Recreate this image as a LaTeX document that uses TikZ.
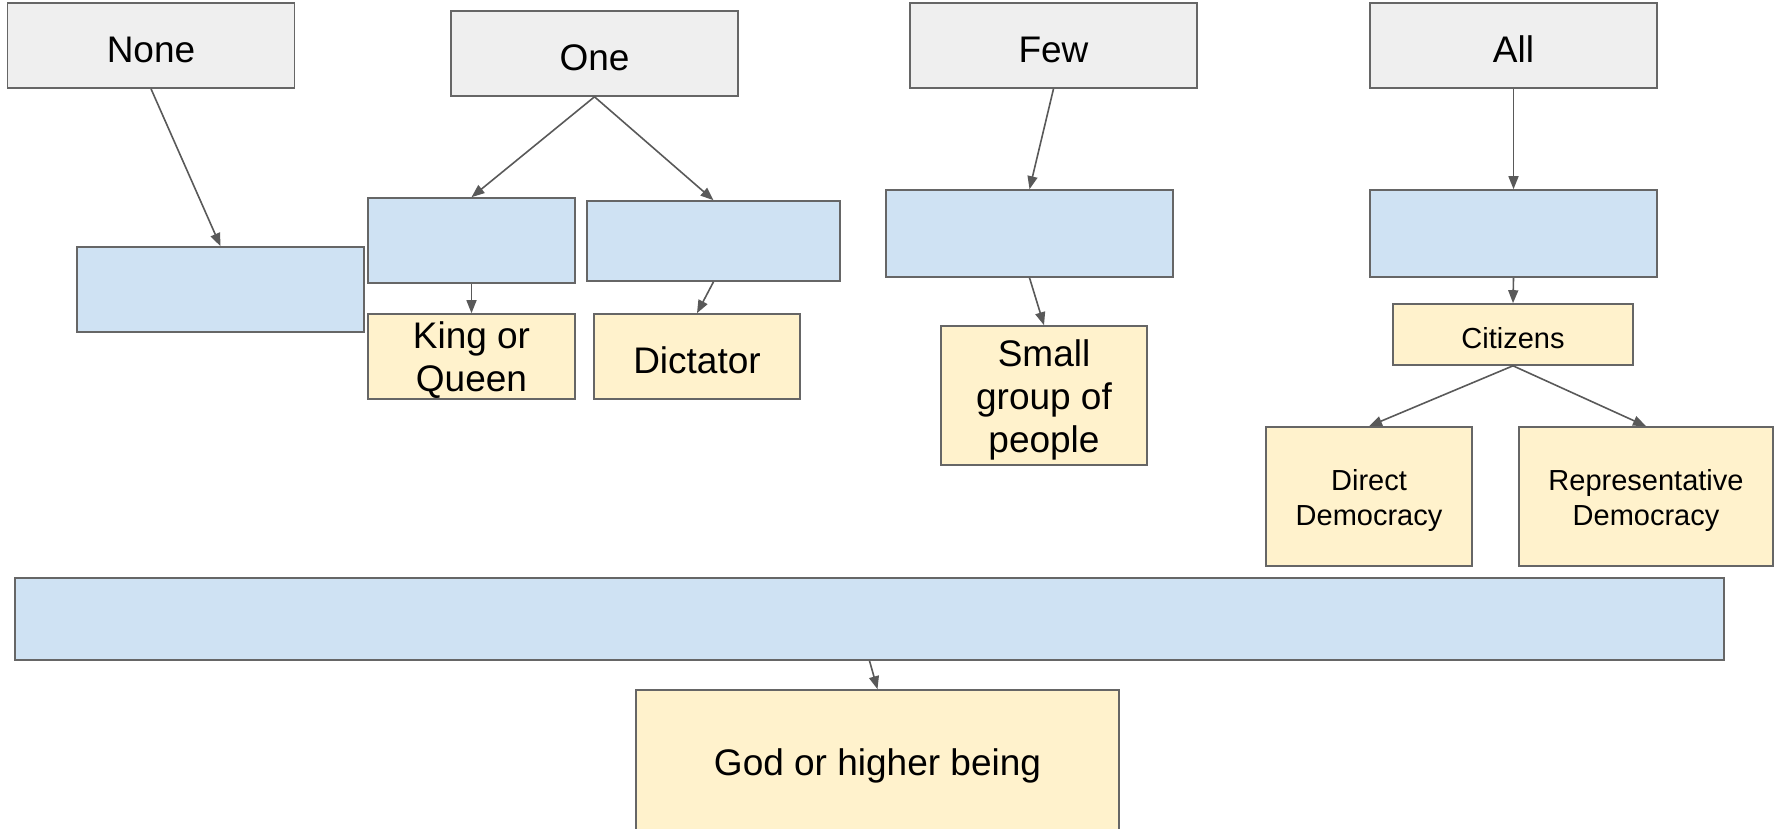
\documentclass[tikz,border=0pt]{standalone}
\usepackage{fontspec}
\setmainfont{Liberation Sans}
\usetikzlibrary{arrows.meta}
\definecolor{greyfill}{HTML}{EFEFEF}
\definecolor{bluefill}{HTML}{CFE2F3}
\definecolor{yellowfill}{HTML}{FFF2CC}
\definecolor{edge}{HTML}{666666}
\definecolor{arrowc}{HTML}{595959}
\begin{document}
\begin{tikzpicture}[x=1pt,y=-1pt,
  box/.style={draw=edge,line width=1.6pt,inner sep=0pt,align=center,rectangle},
  bigtxt/.style={label={[font=\fontsize{37}{43}\selectfont,align=center,yshift=-4pt,inner sep=0pt]center:{#1}}},
  smalltxt/.style={label={[font=\fontsize{29}{35}\selectfont,align=center,yshift=-4pt,inner sep=0pt]center:{#1}}},
  topbox/.style={box,fill=greyfill,minimum width=287pt,minimum height=85pt},
  bluebox/.style={box,fill=bluefill},
  ybox/.style={box,fill=yellowfill},
  arr/.style={draw=arrowc,line width=1.6pt,-{Triangle[length=13pt,width=10pt]}}]
\clip (0,0) rectangle (1777,829);
\useasboundingbox (0,0) rectangle (1777,829);
% top row
\node[topbox,bigtxt={None}] (none) at (151,45.5) {};
\node[topbox,bigtxt={One}] (one) at (594.5,53.5) {};
\node[topbox,bigtxt={Few}] (few) at (1053.5,45.5) {};
\node[topbox,bigtxt={All}] (all) at (1513.5,45.5) {};
% blue boxes
\node[bluebox,minimum width=287pt,minimum height=85pt] (noneB) at (220.5,289.5) {};
\node[bluebox,minimum width=207pt,minimum height=85pt] (kingB) at (471.5,240.5) {};
\node[bluebox,minimum width=253pt,minimum height=80pt] (dictB) at (713.5,241) {};
\node[bluebox,minimum width=287pt,minimum height=87pt] (fewB) at (1029.5,233.5) {};
\node[bluebox,minimum width=287pt,minimum height=87pt] (allB) at (1513.5,233.5) {};
\node[bluebox,minimum width=1709pt,minimum height=82pt] (bar) at (869.5,619) {};
% yellow boxes
\node[ybox,minimum width=207pt,minimum height=85pt,bigtxt={King or\\Queen}] (kingY) at (471.5,356.5) {};
\node[ybox,minimum width=206pt,minimum height=85pt,bigtxt={Dictator}] (dictY) at (697,356.5) {};
\node[ybox,minimum width=206pt,minimum height=139pt,bigtxt={Small\\group of\\people}] (smallY) at (1044,395.5) {};
\node[ybox,minimum width=240pt,minimum height=61pt,smalltxt={Citizens}] (cit) at (1513,334.5) {};
\node[ybox,minimum width=206pt,minimum height=139pt,smalltxt={Direct\\Democracy}] (direct) at (1369,496.5) {};
\node[ybox,minimum width=254pt,minimum height=139pt,smalltxt={Representative\\Democracy}] (rep) at (1646,496.5) {};
\node[ybox,minimum width=483pt,minimum height=144pt,bigtxt={God or higher being}] (god) at (877.5,762) {};
% arrows
\draw[arr] (none.south) -- (noneB.north);
\draw[arr] (one.south) -- (kingB.north);
\draw[arr] (one.south) -- (dictB.north);
\draw[arr] (kingB.south) -- (kingY.north);
\draw[arr] (dictB.south) -- (dictY.north);
\draw[arr] (few.south) -- (fewB.north);
\draw[arr] (fewB.south) -- (smallY.north);
\draw[arr] (all.south) -- (allB.north);
\draw[arr] (allB.south) -- (cit.north);
\draw[arr] (cit.south) -- (direct.north);
\draw[arr] (cit.south) -- (rep.north);
\draw[arr] (bar.south) -- (god.north);
\end{tikzpicture}
\end{document}
